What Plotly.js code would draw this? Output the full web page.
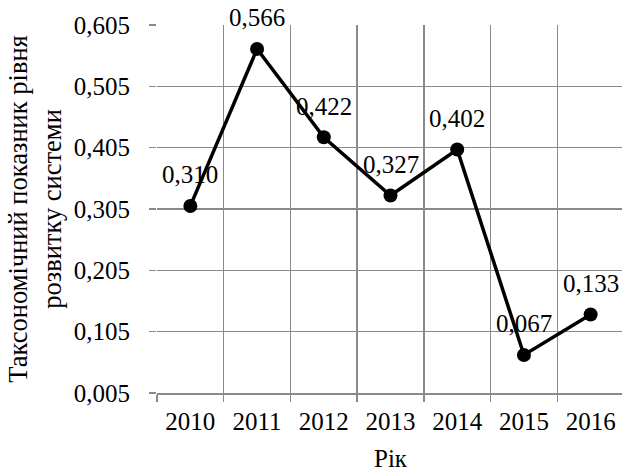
<!DOCTYPE html>
<html>
<head>
<meta charset="utf-8">
<script src="https://cdn.plot.ly/plotly-3.0.1.min.js"></script>
<style>
html,body{margin:0;padding:0;overflow:hidden;background:#fff;width:622px;height:472px;}
#chart{width:624px;height:472px;}
</style>
</head>
<body>
<div id="chart"></div>
<script>
const years = ['2010','2011','2012','2013','2014','2015','2016'];
const values = [0.310, 0.566, 0.422, 0.327, 0.402, 0.067, 0.133];
const yTicks = [0.005, 0.105, 0.205, 0.305, 0.405, 0.505, 0.605];
const yTitle = 'Таксономічний показник рівня<br>розвитку системи';
const xTitle = 'Рік';

const FONT = 'Liberation Serif';
const gridCol = '#8a8a8a';

const trace = {
  type: 'scatter',
  mode: 'lines+markers',
  x: years,
  y: values,
  line: {color: '#000', width: 3.5},
  marker: {color: '#000', size: 14},
  hoverinfo: 'skip',
  cliponaxis: false
};

const annotations = years.map((yr, i) => ({
  x: i, y: values[i], xref: 'x', yref: 'y',
  text: values[i].toFixed(3).replace('.', ','),
  showarrow: false, yshift: 31,
  font: {family: FONT, size: 25, color: '#000'}
}));

const layout = {
  width: 624, height: 472,
  margin: {l: 157, r: 0, t: 25, b: 79, pad: 0},
  paper_bgcolor: '#fff', plot_bgcolor: '#fff',
  showlegend: false,
  separators: ', ',
  font: {family: FONT, size: 24, color: '#000'},
  xaxis: {
    type: 'category',
    categoryorder: 'array',
    categoryarray: years,
    range: [-0.5, 6.5],
    tickson: 'boundaries',
    tickangle: 0,
    ticks: 'outside', ticklen: 7, tickwidth: 1.5, tickcolor: gridCol,
    ticklabelstandoff: 5,
    showgrid: true, gridcolor: gridCol, gridwidth: 1.5,
    showline: true, linecolor: gridCol, linewidth: 1.5,
    zeroline: false,
    tickfont: {family: FONT, size: 25, color: '#000'},
    title: {text: xTitle, font: {family: FONT, size: 25, color: '#000'}, standoff: 29},
    automargin: false,
    fixedrange: true
  },
  yaxis: {
    range: [0.005, 0.605],
    tickvals: yTicks,
    tickformat: '.3f',
    ticks: 'outside', ticklen: 7, tickwidth: 1.5, tickcolor: gridCol,
    ticklabelstandoff: 14,
    showgrid: true, gridcolor: gridCol, gridwidth: 1.5,
    showline: false, zeroline: false,
    tickfont: {family: FONT, size: 25, color: '#000'},
    title: {text: yTitle, font: {family: FONT, size: 26.5, color: '#000'}, standoff: 4},
    automargin: false,
    fixedrange: true
  },
  annotations: annotations
};

Plotly.newPlot('chart', [trace], layout, {displayModeBar: false, staticPlot: true});
</script>
</body>
</html>
